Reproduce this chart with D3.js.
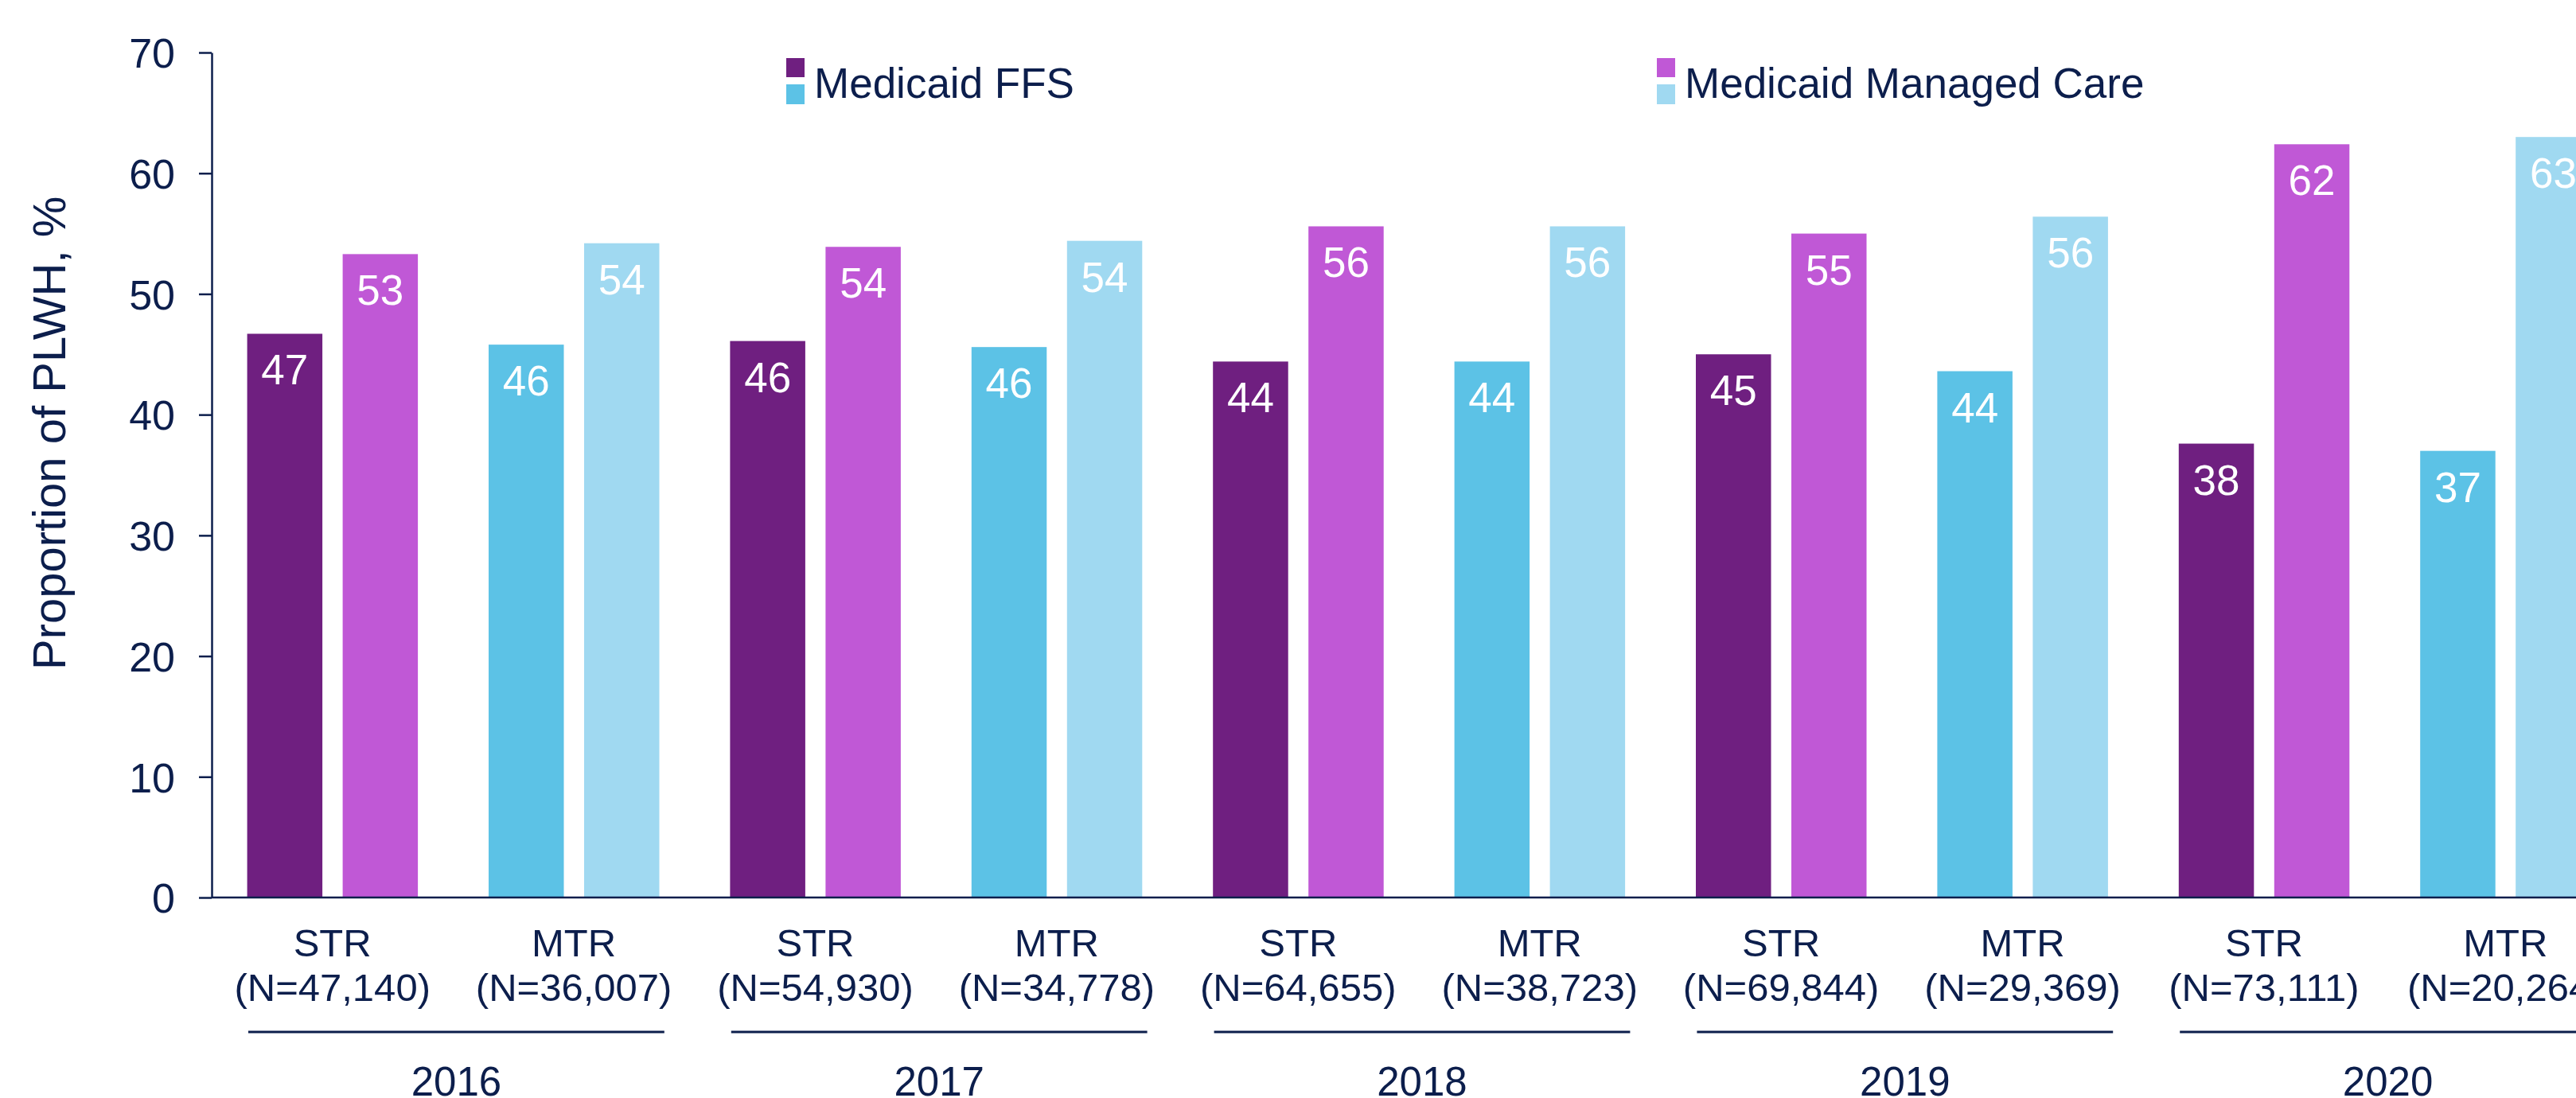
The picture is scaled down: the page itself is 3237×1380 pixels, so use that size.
<!DOCTYPE html>
<html>
<head>
<meta charset="utf-8">
<script src="https://d3js.org/d3.v7.min.js"></script>
<style>
    body { margin: 0; background: #ffffff; }
    svg { display: block; }
    text { font-family: "Liberation Sans", Arial, sans-serif; fill: #0C1E4C; }
</style>
</head>
<body>
<script>
'use strict';

// chart data
const years = ['2016', '2017', '2018', '2019', '2020'];
const regimens = ['STR', 'MTR'];
const groupCounts = ['N=47,140', 'N=36,007', 'N=54,930', 'N=34,778', 'N=64,655',
                     'N=38,723', 'N=69,844', 'N=29,369', 'N=73,111', 'N=20,264'];
const ffsValues = [46.7, 45.8, 46.1, 45.6, 44.4, 44.4, 45.0, 43.6, 37.6, 37.0];
const mmcValues = [53.3, 54.2, 53.9, 54.4, 55.6, 55.6, 55.0, 56.4, 62.4, 63.0];
const seriesNames = ['Medicaid FFS', 'Medicaid Managed Care'];
const yTicks = [0, 10, 20, 30, 40, 50, 60, 70];

(function() {

    const measurements = {
        width: 3237,
        height: 1380,
        left: 266,
        top: 66,
        bottom: 1128,
        step: 303.4
    };

    // colours per regimen: [FFS, Managed Care]
    const colors = {
        STR: ['#6F1F80', '#C058D6'],
        MTR: ['#5CC2E6', '#A0D9F1']
    };
    const textColor = '#0C1E4C';

    // build group rows
    let groups = [];
    years.forEach((year, i) => {
        regimens.forEach((reg, j) => {
            let k = i * 2 + j;
            groups.push({
                key: year + '-' + reg,
                year: year,
                regimen: reg,
                n: groupCounts[k],
                values: [ffsValues[k], mmcValues[k]]
            });
        });
    });

    const svg = d3.select('body')
        .append('svg')
        .attr('width', measurements.width)
        .attr('height', measurements.height);

    // scales
    let xScale = d3.scaleBand()
        .domain(groups.map((d) => d.key))
        .range([measurements.left, measurements.left + measurements.step * groups.length])
        .padding(0);

    let inner = d3.scaleBand()
        .domain([0, 1])
        .range([44.6, 259.1])
        .paddingInner(0.2125);

    let yScale = d3.scaleLinear()
        .domain([0, 70])
        .range([measurements.bottom, measurements.top]);

    // y axis
    let yAxis = d3.axisLeft(yScale)
        .tickValues(yTicks)
        .tickSize(16)
        .tickSizeOuter(0)
        .tickPadding(30);

    let yG = svg.append('g')
        .attr('transform', 'translate(' + measurements.left + ',0)')
        .call(yAxis);
    yG.select('.domain').attr('stroke', textColor).attr('stroke-width', 2.5);
    yG.selectAll('.tick line').attr('stroke', textColor).attr('stroke-width', 2.5);
    yG.selectAll('.tick text')
        .style('font-size', '52px')
        .style('font-family', '"Liberation Sans", Arial, sans-serif')
        .attr('fill', textColor)
        .attr('dy', '0.36em');

    // y axis title
    svg.append('text')
        .attr('transform', 'translate(82, 842)rotate(-90)')
        .attr('text-anchor', 'start')
        .style('font-size', '58px')
        .text('Proportion of PLWH, %');

    // bars
    let groupG = svg.selectAll('.group')
        .data(groups)
        .enter()
        .append('g')
        .attr('class', 'group')
        .attr('transform', (d) => 'translate(' + xScale(d.key) + ',0)');

    let barData = (d) => d.values.map((v, i) => ({ v: v, i: i, regimen: d.regimen }));

    groupG.selectAll('rect')
        .data(barData)
        .enter()
        .append('rect')
        .attr('x', (d) => inner(d.i))
        .attr('width', inner.bandwidth())
        .attr('y', (d) => yScale(d.v))
        .attr('height', (d) => yScale(0) - yScale(d.v))
        .attr('fill', (d) => colors[d.regimen][d.i]);

    groupG.selectAll('.value')
        .data(barData)
        .enter()
        .append('text')
        .attr('class', 'value')
        .attr('x', (d) => inner(d.i) + inner.bandwidth() / 2)
        .attr('y', (d) => yScale(d.v) + 64)
        .attr('text-anchor', 'middle')
        .style('font-size', '53px')
        .style('fill', '#ffffff')
        .text((d) => Math.round(d.v));

    // baseline
    svg.append('line')
        .attr('x1', measurements.left)
        .attr('x2', measurements.width + 10)
        .attr('y1', yScale(0))
        .attr('y2', yScale(0))
        .attr('stroke', textColor)
        .attr('stroke-width', 2.5);

    // category labels
    groupG.append('text')
        .attr('x', xScale.bandwidth() / 2)
        .attr('y', 1202)
        .attr('text-anchor', 'middle')
        .style('font-size', '49px')
        .text((d) => d.regimen);

    groupG.append('text')
        .attr('x', xScale.bandwidth() / 2)
        .attr('y', 1258)
        .attr('text-anchor', 'middle')
        .style('font-size', '49px')
        .text((d) => '(' + d.n + ')');

    // year separators and labels
    let yearG = svg.selectAll('.year')
        .data(years)
        .enter()
        .append('g')
        .attr('class', 'year')
        .attr('transform', (d) => 'translate(' + xScale(d + '-STR') + ',0)');

    let yearWidth = xScale.step() * 2;

    yearG.append('line')
        .attr('x1', 46)
        .attr('x2', yearWidth - 38)
        .attr('y1', 1297)
        .attr('y2', 1297)
        .attr('stroke', textColor)
        .attr('stroke-width', 3);

    yearG.append('text')
        .attr('x', yearWidth / 2 + 4)
        .attr('y', 1377)
        .attr('text-anchor', 'middle')
        .style('font-size', '51px')
        .text((d) => d);

    // legend
    let legendX = [988, 2082];
    let legendG = svg.selectAll('.legend')
        .data(seriesNames)
        .enter()
        .append('g')
        .attr('class', 'legend')
        .attr('transform', (d, i) => 'translate(' + legendX[i] + ',0)');

    legendG.append('rect')
        .attr('x', 0).attr('y', 73)
        .attr('width', 23).attr('height', 24)
        .attr('fill', (d, i) => colors.STR[i]);

    legendG.append('rect')
        .attr('x', 0).attr('y', 106)
        .attr('width', 23).attr('height', 25)
        .attr('fill', (d, i) => colors.MTR[i]);

    legendG.append('text')
        .attr('x', 35)
        .attr('y', 123)
        .style('font-size', '53px')
        .text((d) => d);
})();
</script>
</body>
</html>
